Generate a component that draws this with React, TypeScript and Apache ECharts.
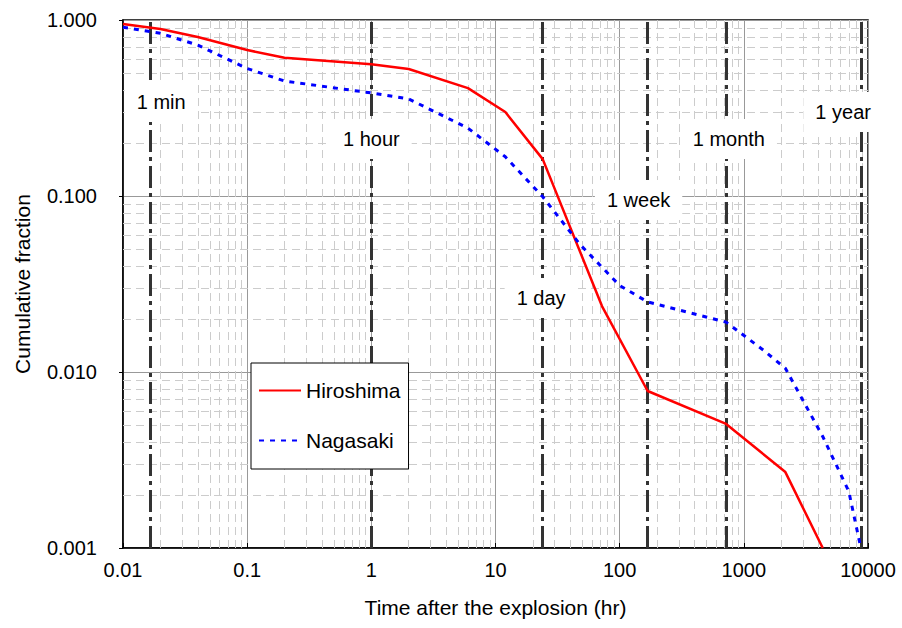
import React, { useEffect, useRef } from 'react';
import * as echarts from 'echarts';

// ---- data ----
const hiroshimaTime = [0.01, 0.02, 0.04, 0.1, 0.2, 1, 2, 6, 12, 24, 72, 168, 720, 2160, 4320];
const hiroshimaValue = [0.949, 0.89, 0.8, 0.675, 0.61, 0.56, 0.527, 0.41, 0.3, 0.162, 0.0237, 0.0078, 0.00507, 0.0027, 0.001];

const nagasakiTime = [0.01, 0.02, 0.04, 0.1, 0.2, 1, 2, 6, 12, 24, 48, 100, 168, 720, 1440, 2160, 4320, 7000, 8760];
const nagasakiValue = [0.91, 0.84, 0.72, 0.53, 0.45, 0.385, 0.356, 0.243, 0.167, 0.099, 0.053, 0.031, 0.025, 0.0192, 0.0133, 0.0105, 0.0043, 0.0021, 0.001];

const xTickLabels = ['0.01', '0.1', '1', '10', '100', '1000', '10000'];
const yTickLabels = ['0.001', '0.010', '0.100', '1.000'];

const refLineTimes = [1 / 60, 1, 24, 168, 720, 8760];
const refLabels = ['1 min', '1 hour', '1 day', '1 week', '1 month', '1 year'];
const refLabelX = [0.0203, 1.0, 23.3, 142, 757, 6310];
const refLabelY = [0.342, 0.211, 0.0263, 0.0949, 0.211, 0.3];

const minorMultipliers = [2, 3, 4, 5, 6, 7, 8, 9];
const xDecades = [0.01, 0.1, 1, 10, 100, 1000];
const yDecades = [0.001, 0.01, 0.1];

const FONT = '"Liberation Sans", Arial, sans-serif';

function buildOption() {
  const minorX: any[] = [];
  xDecades.forEach((d) => minorMultipliers.forEach((m) => minorX.push({ xAxis: +(d * m).toPrecision(6) })));
  const minorY: any[] = [];
  yDecades.forEach((d) => minorMultipliers.forEach((m) => minorY.push({ yAxis: +(d * m).toPrecision(6) })));

  return {
    animation: false,
    textStyle: { fontFamily: FONT },
    grid: {
      left: 123,
      right: 34,
      top: 20,
      bottom: 80,
      show: true,
      borderColor: '#000',
      borderWidth: 1.5,
      backgroundColor: '#fff',
    },
    legend: {
      data: ['Hiroshima', 'Nagasaki'],
      orient: 'vertical',
      left: 251,
      top: 363,
      z: 50,
      padding: [17, 8, 18, 7],
      itemGap: 29,
      itemWidth: 42,
      itemHeight: 14,
      backgroundColor: '#fff',
      borderColor: '#000',
      borderWidth: 1,
      itemStyle: { opacity: 0 },
      textStyle: { fontSize: 21, color: '#000', fontFamily: FONT },
    },
    xAxis: {
      type: 'log',
      logBase: 10,
      min: 0.01,
      max: 10000,
      splitNumber: 6,
      axisLine: { lineStyle: { color: '#000', width: 1.5 } },
      axisTick: { show: true, inside: true, length: 5, lineStyle: { color: '#000' } },
      axisLabel: {
        fontSize: 20,
        color: '#000',
        margin: 12,
        showMinLabel: true,
        showMaxLabel: true,
        formatter: (_v: number, i: number) => xTickLabels[i] ?? String(_v),
      },
      splitLine: { show: true, lineStyle: { color: '#999', width: 1 } },
      name: 'Time after the explosion (hr)',
      nameLocation: 'middle',
      nameGap: 49,
      nameTextStyle: { fontSize: 21, color: '#000', fontFamily: FONT },
    },
    yAxis: {
      type: 'log',
      logBase: 10,
      min: 0.001,
      max: 1,
      splitNumber: 3,
      axisLine: { show: true, lineStyle: { color: '#000', width: 1.5 } },
      axisTick: { show: true, inside: false, length: 4, lineStyle: { color: '#000' } },
      axisLabel: {
        fontSize: 20,
        color: '#000',
        margin: 26,
        showMinLabel: true,
        showMaxLabel: true,
        formatter: (_v: number, i: number) => yTickLabels[i] ?? String(_v),
      },
      splitLine: { show: true, lineStyle: { color: '#999', width: 1 } },
      name: 'Cumulative fraction',
      nameLocation: 'middle',
      nameGap: 90,
      nameTextStyle: { fontSize: 21, color: '#000', fontFamily: FONT },
    },
    series: [
      {
        name: 'minorGrid',
        type: 'line',
        data: [],
        z: 1,
        silent: true,
        markLine: {
          silent: true,
          symbol: 'none',
          precision: 8,
          z: 1,
          label: { show: false },
          animation: false,
          lineStyle: { color: '#cccccc', width: 1, type: [8, 5] },
          data: [...minorX, ...minorY],
        },
      },
      {
        name: 'refLines',
        type: 'line',
        data: [],
        z: 2,
        silent: true,
        markLine: {
          silent: true,
          symbol: 'none',
          precision: 8,
          z: 2,
          label: { show: false },
          animation: false,
          lineStyle: { color: '#333', width: 3, type: [22, 5, 4, 5] },
          data: refLineTimes.map((t) => ({ xAxis: t })),
        },
      },
      {
        name: 'Hiroshima',
        type: 'line',
        z: 5,
        symbol: 'none',
        data: hiroshimaTime.map((t, i) => [t, hiroshimaValue[i]]),
        lineStyle: { color: '#ff0000', width: 2.5 },
        itemStyle: { color: '#ff0000' },
      },
      {
        name: 'Nagasaki',
        type: 'line',
        z: 5,
        symbol: 'none',
        data: nagasakiTime.map((t, i) => [t, nagasakiValue[i]]),
        lineStyle: { color: '#0000ff', width: 3, type: [5, 6] },
        itemStyle: { color: '#0000ff' },
      },
    ],
  };
}

export default function App() {
  const ref = useRef<HTMLDivElement>(null);
  useEffect(() => {
    const chart = echarts.init(ref.current!, null, { renderer: 'svg' });
    chart.setOption(buildOption() as any);
    const elements = refLabels.map((label, i) => {
      const p = chart.convertToPixel({ gridIndex: 0 }, [refLabelX[i], refLabelY[i]]) as number[];
      return {
        type: 'text',
        x: p[0],
        y: p[1],
        z: 100,
        silent: true,
        style: {
          text: label,
          fill: '#000',
          font: '20px "Liberation Sans", Arial, sans-serif',
          align: 'center',
          verticalAlign: 'middle',
          textAlign: 'center',
          textVerticalAlign: 'middle',
          backgroundColor: '#fff',
          padding: [10, 12],
        },
      };
    });
    chart.setOption({ graphic: elements } as any);
    return () => chart.dispose();
  }, []);
  return (
    <div
      ref={ref}
      style={{ position: 'fixed', left: 0, top: 0, width: 902, height: 628, background: '#fff' }}
    />
  );
}
